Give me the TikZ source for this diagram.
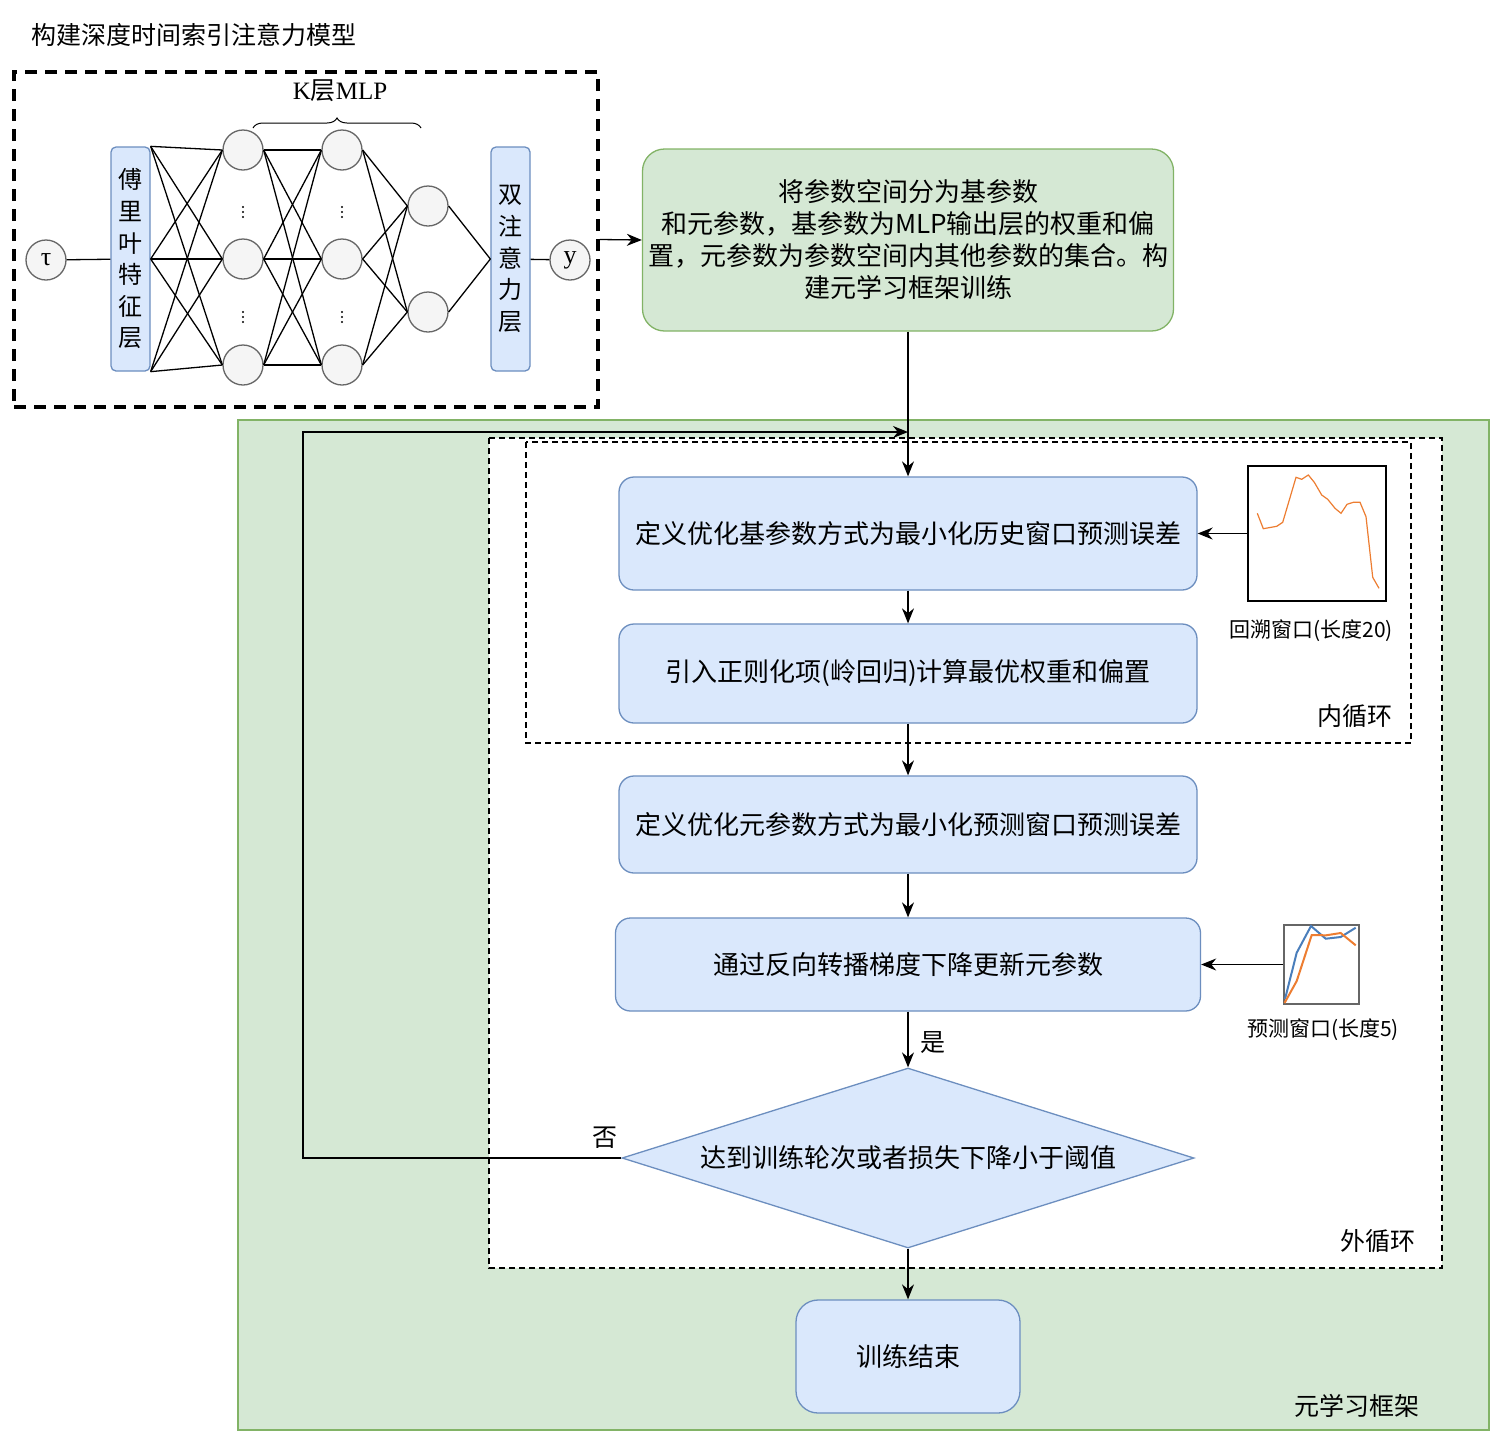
\documentclass[tikz,border=0pt]{standalone}
\usepackage{fontspec}
\setmainfont{Liberation Serif}
\newfontfamily\cjk{Noto Sans CJK SC}
\usetikzlibrary{shapes.geometric, arrows.meta, decorations.pathreplacing}

\definecolor{boxblue}{HTML}{DAE8FC}
\definecolor{lineblue}{HTML}{6C8EBF}
\definecolor{boxgreen}{HTML}{D5E8D4}
\definecolor{linegreen}{HTML}{82B366}
\definecolor{neuronfill}{HTML}{F5F5F5}
\definecolor{neuronline}{HTML}{666666}
\definecolor{plotorange}{HTML}{ED7D31}
\definecolor{plotblue}{HTML}{4A7EBB}

\begin{document}
\begin{tikzpicture}[x=1pt, y=-1pt, line width=1.3pt,
	stepbox/.style={draw=lineblue, fill=boxblue, rounded corners=15pt, font=\cjk\fontsize{26}{32}\selectfont},
	layerbox/.style={draw=lineblue, fill=boxblue, rounded corners=5pt, minimum width=39pt, minimum height=224pt, inner sep=0pt, align=center, font=\cjk\fontsize{24}{31.6}\selectfont},
	neuron/.style={circle, draw=neuronline, fill=neuronfill, minimum size=40pt, inner sep=0pt, font=\fontsize{26}{28}\selectfont},
	flow/.style={-{Stealth[length=15pt, width=12pt]}},
	lbl/.style={font=\cjk\fontsize{25}{30}\selectfont},
	smalllbl/.style={font=\cjk\fontsize{21}{24}\selectfont}]
		
		\useasboundingbox (0, 0) rectangle (1506, 1454);
		
		% model part
		\node [anchor=west, lbl] (title) at (28, 35) {构建深度时间索引注意力模型};
		\node [draw, line width=3.5pt, dash pattern=on 12pt off 8pt, minimum width=584pt, minimum height=335pt] (model) at (306, 239.5) {};
		\node [font=\fontsize{25}{28}\selectfont] (klayer) at (340, 91) {K{\cjk 层}MLP};
		\draw [decorate, decoration={brace, amplitude=10pt}, line width=1pt] (253, 128) -- (421, 128);
		
		\node [neuron] (tau) at (46, 260) {τ};
		\node [layerbox] (fourier) at (130.5, 259) {傅\\里\\叶\\特\\征\\层};
		\node [neuron] (a1) at (243, 150) {};
		\node [neuron] (a2) at (243, 259) {};
		\node [neuron] (a3) at (243, 365) {};
		\node [neuron] (b1) at (342, 150) {};
		\node [neuron] (b2) at (342, 259) {};
		\node [neuron] (b3) at (342, 365) {};
		\node [neuron] (c1) at (428, 206) {};
		\node [neuron] (c2) at (428, 312) {};
		\node [layerbox] (attn) at (510.5, 259) {双\\注\\意\\力\\层};
		\node [neuron] (yout) at (570, 260) {y};
		
		\foreach \x in {243, 342}
			\foreach \y in {212, 317}
				\foreach \d in {-5, 0, 5}
					\fill (\x, \y + \d) circle (1.2pt);
		
		\draw (tau) -- (fourier);
		\draw (attn) -- (yout);
		\foreach \s in {north east, east, south east}
			\foreach \t in {1, 2, 3}
				\draw (fourier.\s) -- (a\t.west);
		\foreach \s in {1, 2, 3}
			\foreach \t in {1, 2, 3}
				\draw (a\s.east) -- (b\t.west);
		\foreach \s in {1, 2, 3}
			\foreach \t in {1, 2}
				\draw (b\s.east) -- (c\t.west);
		\foreach \s in {1, 2}
			\draw (c\s.east) -- (attn.west);
		
		\node [draw=linegreen, fill=boxgreen, rounded corners=22pt, minimum width=531pt, minimum height=182pt, align=center, font=\cjk\fontsize{26}{32}\selectfont] (meta) at (908, 240) {将参数空间分为基参数\\和元参数，基参数为MLP输出层的权重和偏\\置，元参数为参数空间内其他参数的集合。构\\建元学习框架训练};
		\draw [flow] (model.east) -- (meta.west);
		
		% meta learning frame
		\draw [draw=linegreen, fill=boxgreen] (238, 420) rectangle (1489, 1430);
		\draw [fill=white, dash pattern=on 6pt off 4pt] (489, 438) rectangle (1442, 1268);
		\draw [dash pattern=on 6pt off 4pt] (526, 442) rectangle (1411, 743);
		
		\node [stepbox, minimum width=578pt, minimum height=113pt] (base) at (908, 533.5) {定义优化基参数方式为最小化历史窗口预测误差};
		\node [stepbox, minimum width=578pt, minimum height=99pt] (ridge) at (908, 673.5) {引入正则化项(岭回归)计算最优权重和偏置};
		\node [stepbox, minimum width=578pt, minimum height=97pt] (metaopt) at (908, 824.5) {定义优化元参数方式为最小化预测窗口预测误差};
		\node [stepbox, minimum width=585pt, minimum height=93pt] (update) at (908, 964.5) {通过反向转播梯度下降更新元参数};
		\node [diamond, aspect=3.18, draw=lineblue, fill=boxblue, minimum width=572pt, minimum height=180pt, inner sep=0pt, font=\cjk\fontsize{26}{32}\selectfont] (judge) at (908, 1158) {达到训练轮次或者损失下降小于阈值};
		\node [stepbox, rounded corners=22pt, minimum width=224pt, minimum height=113pt] (done) at (908, 1356.5) {训练结束};
		
		\node [lbl] (yes) at (933, 1043) {是};
		\node [lbl] (no) at (605, 1138) {否};
		\node [lbl] (innerloop) at (1355, 716) {内循环};
		\node [lbl] (outerloop) at (1378, 1241) {外循环};
		\node [lbl] (framelbl) at (1357, 1406) {元学习框架};
		
		% window charts
		\node [draw, line width=1.8pt, minimum width=138pt, minimum height=135pt, inner sep=0pt] (lookback) at (1317, 533.5) {};
		\draw [plotorange, line width=1.2pt] plot coordinates {(1257.3, 513.3) (1263.3, 528.7) (1276.7, 526.3) (1282.7, 522.3) (1296, 477.3) (1301.7, 479.3) (1308.3, 475) (1314.3, 482.3) (1321.7, 495) (1327.7, 499.3) (1335, 508.3) (1341, 513.3) (1347, 504.3) (1353.3, 502.3) (1360, 502.3) (1366, 516.7) (1372.7, 577.3) (1379, 588.3)};
		\node [smalllbl] (lookbacklbl) at (1311, 631) {回溯窗口(长度20)};
		
		\node [draw=neuronline, line width=1.2pt, minimum width=75pt, minimum height=79pt, inner sep=0pt] (predwin) at (1321.5, 964.5) {};
		\draw [plotblue, line width=2pt] plot coordinates {(1285, 999) (1296.7, 952.7) (1311, 926) (1325.7, 938.7) (1340.7, 937) (1355.7, 927.7)};
		\draw [plotorange, line width=2pt] plot coordinates {(1284.5, 1003) (1296.7, 981) (1311.7, 935) (1326, 935.3) (1340.7, 933) (1355.7, 945.3)};
		\node [smalllbl] (predwinlbl) at (1323, 1030) {预测窗口(长度5)};
		
		% flow
		\coordinate (back) at (303, 432);
		\draw [flow] (meta.south) -- (base.north);
		\draw [flow] (base) -- (ridge);
		\draw [flow] (ridge) -- (metaopt);
		\draw [flow] (metaopt) -- (update);
		\draw [flow] (update) -- (judge.north);
		\draw [flow] (judge.south) -- (done);
		\draw [flow] (judge.west) -| (back) -- (back -| base.north);
		\draw [flow] (lookback.west) -- (base.east);
		\draw [flow] (predwin.west) -- (update.east);
		
\end{tikzpicture}
\end{document}
